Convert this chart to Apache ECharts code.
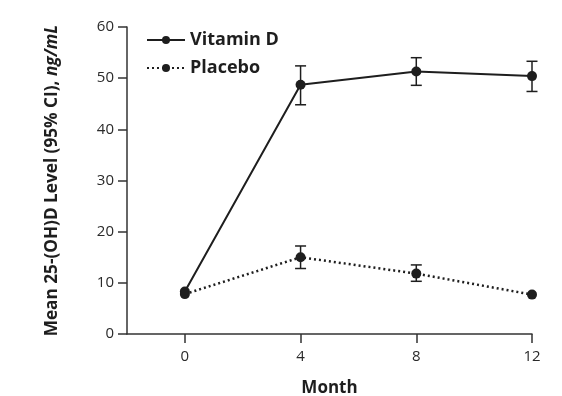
<!DOCTYPE html>
<html lang="en">
<head>
    <meta charset="utf-8">
    <title>Vitamin D vs Placebo</title>
    <script src="https://cdn.jsdelivr.net/npm/echarts@6/dist/echarts.min.js"></script>
    <style>
        html, body { margin: 0; padding: 0; background: #fff; }
        #main { width: 562px; height: 396px; }
    </style>
</head>
<body>
<div id="main"></div>
<script type="text/javascript">
    // data
    var months = [0, 4, 8, 12];
    var vitD = [8.3, 48.7, 51.3, 50.4];
    var vitDLow = [null, 44.8, 48.6, 47.4];
    var vitDHigh = [null, 52.4, 54.0, 53.3];
    var placebo = [7.8, 15.0, 11.8, 7.7];
    var placeboLow = [null, 12.8, 10.3, null];
    var placeboHigh = [null, 17.2, 13.5, null];

    var ink = '#1e1e1e';
    var font = '"Open Sans", "Noto Sans", sans-serif';

    function pairs(xs, ys) {
        return xs.map(function (x, i) { return [x, ys[i]]; });
    }
    function bars(xs, lo, hi) {
        var out = [];
        xs.forEach(function (x, i) {
            if (lo[i] != null) out.push([x, lo[i], hi[i]]);
        });
        return out;
    }

    // error bar with caps
    var renderErr = function (params, api) {
        var lo = api.coord([api.value(0), api.value(1)]);
        var hi = api.coord([api.value(0), api.value(2)]);
        var w = 5.5;
        var st = { stroke: ink, lineWidth: 1.5 };
        return {
            type: 'group',
            children: [
                { type: 'line', shape: { x1: lo[0], y1: lo[1], x2: hi[0], y2: hi[1] }, style: st },
                { type: 'line', shape: { x1: lo[0] - w, y1: lo[1], x2: lo[0] + w, y2: lo[1] }, style: st },
                { type: 'line', shape: { x1: hi[0] - w, y1: hi[1], x2: hi[0] + w, y2: hi[1] }, style: st }
            ]
        };
    };

    var myChart = echarts.init(document.getElementById('main'));

    myChart.setOption({
        animation: false,
        grid: { left: 127, right: 30, top: 27, bottom: 62, outerBoundsMode: 'none' },
        legend: {
            orient: 'vertical',
            left: 141,
            top: 26,
            itemWidth: 38,
            itemHeight: 10,
            itemGap: 10,
            textStyle: { fontFamily: font, fontWeight: 'bold', fontSize: 18, color: ink },
            data: ['Vitamin D', 'Placebo']
        },
        xAxis: {
            type: 'value',
            min: -2,
            max: 12,
            name: 'Month',
            nameLocation: 'middle',
            nameGap: 46,
            nameTextStyle: { fontFamily: font, fontWeight: 'bold', fontSize: 17, color: ink },
            axisLine: { onZero: false, lineStyle: { color: '#333', width: 1.5 } },
            axisTick: { customValues: months, length: 9, lineStyle: { color: '#333', width: 1.5 } },
            axisLabel: { customValues: months, margin: 15, fontFamily: font, fontSize: 15, color: '#2a2a2a' },
            splitLine: { show: false }
        },
        yAxis: {
            type: 'value',
            min: 0,
            max: 60,
            interval: 10,
            name: '{b|Mean 25-(OH)D Level (95% CI), }{i|ng/mL}',
            nameLocation: 'middle',
            nameRotate: 90,
            nameGap: 66,
            nameTextStyle: {
                rich: {
                    b: { fontFamily: font, fontWeight: 'bold', fontSize: 17.2, color: ink },
                    i: { fontFamily: font, fontWeight: 'bold', fontStyle: 'italic', fontSize: 17.2, color: ink }
                }
            },
            axisLine: { show: true, onZero: false, lineStyle: { color: '#333', width: 1.5 } },
            axisTick: { show: true, length: 9, lineStyle: { color: '#333', width: 1.5 } },
            axisLabel: { margin: 13, fontFamily: font, fontSize: 15, color: '#2a2a2a' },
            splitLine: { show: false }
        },
        series: [{
            name: 'Vitamin D',
            type: 'line',
            data: pairs(months, vitD),
            symbol: 'circle',
            symbolSize: 10,
            itemStyle: { color: ink },
            lineStyle: { color: ink, width: 2, type: 'solid' },
            z: 3
        }, {
            name: 'Placebo',
            type: 'line',
            data: pairs(months, placebo),
            symbol: 'circle',
            symbolSize: 10,
            itemStyle: { color: ink },
            lineStyle: { color: ink, width: 2.5, type: [2, 3] },
            z: 3
        }, {
            type: 'custom',
            renderItem: renderErr,
            data: bars(months, vitDLow, vitDHigh),
            encode: { x: 0, y: [1, 2] },
            z: 2
        }, {
            type: 'custom',
            renderItem: renderErr,
            data: bars(months, placeboLow, placeboHigh),
            encode: { x: 0, y: [1, 2] },
            z: 2
        }]
    });
</script>
</body>
</html>
